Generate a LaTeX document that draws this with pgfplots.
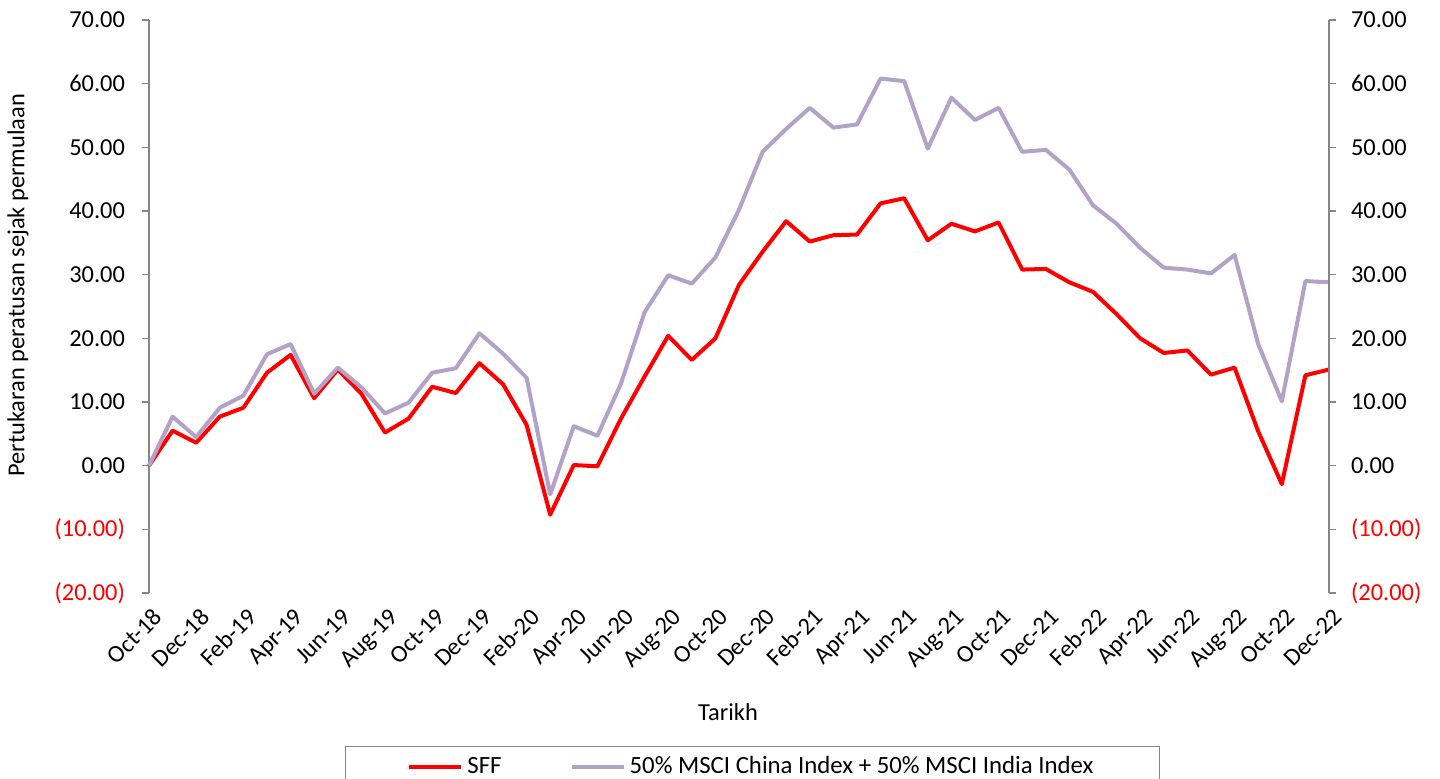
\documentclass[border=0pt]{standalone}
\usepackage{pgfplots}
\usepackage{pgfplotstable}
\pgfplotsset{compat=1.18}
\usepackage{fontspec}
\setmainfont{Carlito}
\definecolor{sff}{HTML}{FF0000}
\definecolor{bench}{HTML}{B3A2C7}
\definecolor{axgray}{HTML}{868686}

\pgfplotstableread{
x y
0 0
1 5.5
2 3.6
3 7.7
4 9.1
5 14.6
6 17.4
7 10.6
8 15.1
9 11.3
10 5.2
11 7.4
12 12.4
13 11.4
14 16.1
15 12.8
16 6.4
17 -7.7
18 0.1
19 -0.1
20 7.4
21 14.0
22 20.4
23 16.6
24 20.0
25 28.4
26 33.6
27 38.4
28 35.2
29 36.2
30 36.3
31 41.2
32 42.0
33 35.4
34 38.0
35 36.8
36 38.2
37 30.8
38 30.9
39 28.8
40 27.3
41 23.8
42 20.0
43 17.7
44 18.1
45 14.3
46 15.4
47 5.4
48 -2.9
49 14.2
50 15.1
}\sfftable

\pgfplotstableread{
x y
0 0
1 7.7
2 4.5
3 9.1
4 11.0
5 17.5
6 19.1
7 11.3
8 15.4
9 12.3
10 8.2
11 9.9
12 14.6
13 15.3
14 20.8
15 17.6
16 13.8
17 -4.5
18 6.2
19 4.7
20 12.9
21 24.1
22 29.9
23 28.6
24 32.7
25 40.2
26 49.3
27 52.9
28 56.2
29 53.1
30 53.6
31 60.8
32 60.4
33 49.8
34 57.8
35 54.3
36 56.2
37 49.3
38 49.6
39 46.5
40 40.9
41 38.0
42 34.2
43 31.1
44 30.8
45 30.2
46 33.1
47 19.1
48 10.1
49 29.0
50 28.8
}\benchtable

\begin{document}
\begin{tikzpicture}
\path[use as bounding box] (-74.5pt,-92.5pt) rectangle (645.5pt,296.5pt);
\pgfplotsset{
  commonax/.style={
    at={(0,0)}, anchor=south west, scale only axis,
    width=590pt, height=286.5pt,
    xmin=0, xmax=50, ymin=-20, ymax=70,
    axis line style={axgray, line width=0.7pt},
    ytick={-20,-10,...,70},
    yticklabels={\textcolor{red}{(20.00)},\textcolor{red}{(10.00)},0.00,10.00,20.00,30.00,40.00,50.00,60.00,70.00},
    ytick style={axgray, line width=0.7pt},
    tick align=outside, major tick length=3.5pt,
    every tick label/.append style={font=\fontsize{12.2}{14}\selectfont},
  }
}
\begin{axis}[commonax,
  axis y line*=left, axis x line*=bottom,
  x axis line style={draw=none},
  xtick={0,2,...,50},
  xticklabels={Oct-18,Dec-18,Feb-19,Apr-19,Jun-19,Aug-19,Oct-19,Dec-19,Feb-20,Apr-20,Jun-20,Aug-20,Oct-20,Dec-20,Feb-21,Apr-21,Jun-21,Aug-21,Oct-21,Dec-21,Feb-22,Apr-22,Jun-22,Aug-22,Oct-22,Dec-22},
  x tick label style={rotate=45, anchor=north east, xshift=2pt},
  xtick style={draw=none},
  y tick label style={xshift=-5pt},
  xlabel={Tarikh},
  xlabel style={at={(axis description cs:0.4907,-0.2077)}, anchor=center, font=\fontsize{12.2}{14}\selectfont},
  ylabel={Pertukaran peratusan sejak permulaan},
  ylabel style={at={(axis description cs:-0.111,0.537)}, anchor=center, font=\fontsize{12.2}{14}\selectfont},
  clip=false,
  legend columns=2,
  legend style={at={(0.5114,-0.267)}, anchor=north, draw=axgray, line width=0.5pt,
    inner xsep=31pt, inner ysep=3pt,
    font=\fontsize{12.4}{14}\selectfont,
    /tikz/every even column/.append style={column sep=32pt}},
  legend image code/.code={\draw[#1] (0pt,0pt) -- (26pt,0pt);},
]
\addplot[sff, line width=2pt, line join=round] table[x=x,y=y] {\sfftable};
\addlegendentry{SFF}
\addplot[bench, line width=2pt, line join=round] table[x=x,y=y] {\benchtable};
\addlegendentry{50\% MSCI China Index + 50\% MSCI India Index}
\end{axis}
\begin{axis}[commonax,
  axis y line*=right, axis x line=none,
  y tick label style={xshift=4pt},
]
\addplot[draw=none] coordinates {(0,0)};
\end{axis}
\end{tikzpicture}
\end{document}
